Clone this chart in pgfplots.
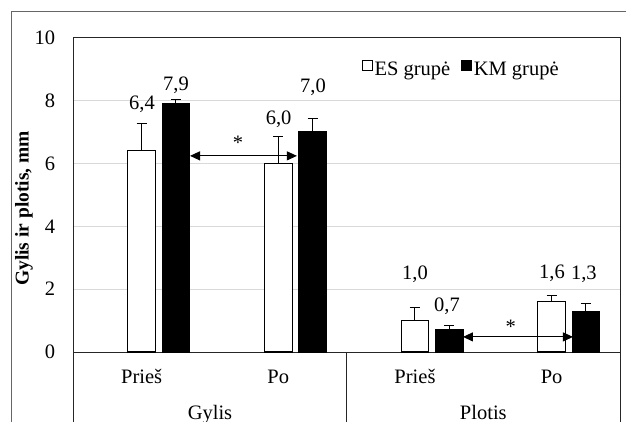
\documentclass[border=0pt]{standalone}
\usepackage{fontspec}
\setmainfont{Liberation Serif}
\usepackage{pgfplots}
\pgfplotsset{compat=1.18}
\usetikzlibrary{arrows.meta}
\tikzset{lbl/.style={anchor=base, yshift=-6.9bp}}

\begin{document}
\fontsize{20.5bp}{24bp}\selectfont
\begin{tikzpicture}
\useasboundingbox (-73.3bp,-70bp) rectangle (552.7bp,352bp);
\draw[black!60, line width=0.8bp] (-61.8bp,-90bp) -- (-61.8bp,341bp) -- (580bp,341bp);
\begin{axis}[
  scale only axis, width=546.7bp, height=314.3bp,
  at={(0,0)}, anchor=south west,
  xmin=-0.5, xmax=3.5, ymin=0, ymax=10,
  ytick={0,2,...,10},
  xtick={0,1,2,3}, xticklabels={Prieš,Po,Prieš,Po},
  major tick length=0pt,
  /pgf/number format/assume math mode=true,
  yticklabel style={anchor=east, inner sep=0pt, xshift=-18bp},
  xticklabel style={anchor=base, inner sep=0pt, yshift=-31.3bp},
  axis line style={black!85, line width=0.8bp},
  ymajorgrids, grid style={gray!30, line width=0.8bp},
  clip=false,
  legend style={at={(rel axis cs:0.527,0.897)}, anchor=west, draw=none, fill=none,
    legend columns=2, inner sep=0pt,
    /tikz/every even column/.append style={column sep=9bp},
    nodes={inner sep=1.5bp}},
  legend cell align=left,
  ylabel={\textbf{Gylis ir plotis, mm}},
  ylabel style={at={(axis description cs:-0.0902,0.457)}, anchor=center,
    font=\fontsize{19.5bp}{23bp}\selectfont},
]
\addplot[ybar, bar width=27.6bp, bar shift=0bp, fill=white, draw=black, line width=1.2bp,
  legend image code/.code={\draw[fill=white, draw=black, line width=1bp] (0bp,0bp) rectangle (10.5bp,10.5bp);},
  error bars/.cd, y dir=plus, y explicit,
  error bar style={black, line width=1bp},
  error mark options={rotate=90, mark size=5bp, line width=1bp, black}]
  coordinates {(0,6.4) +- (0,0.87) (1,6.0) +- (0,0.87) (2,1.0) +- (0,0.40) (3,1.6) +- (0,0.21)};
\addlegendentry{ES grupė}
\addplot[ybar, bar width=27.6bp, bar shift=0bp, fill=black, draw=black, line width=1bp,
  legend image code/.code={\draw[fill=black, draw=black, line width=1bp] (0bp,0bp) rectangle (10.5bp,10.5bp);},
  error bars/.cd, y dir=plus, y explicit,
  error bar style={black, line width=1bp},
  error mark options={rotate=90, mark size=5bp, line width=1bp, black}]
  coordinates {(0.251,7.9) +- (0,0.13) (1.251,7.0) +- (0,0.43) (2.251,0.7) +- (0,0.13) (3.251,1.3) +- (0,0.23)};
\addlegendentry{KM grupė}

% data labels
\node[lbl] at (axis cs:0.003,7.92) {6,4};
\node[lbl] at (axis cs:0.251,8.53) {7,9};
\node[lbl] at (axis cs:1.002,7.47) {6,0};
\node[lbl] at (axis cs:1.254,8.49) {7,0};
\node[lbl] at (axis cs:2.0,2.54) {1,0};
\node[lbl] at (axis cs:2.234,1.52) {0,7};
\node[lbl] at (axis cs:3.002,2.57) {1,6};
\node[lbl] at (axis cs:3.236,2.54) {1,3};

% significance arrows
\draw[{Triangle[length=10bp,width=9bp]}-{Triangle[length=10bp,width=9bp]}, line width=1bp]
  (axis cs:0.354,6.24) -- (axis cs:1.136,6.24);
\draw[{Triangle[length=10bp,width=9bp]}-{Triangle[length=10bp,width=9bp]}, line width=1bp]
  (axis cs:2.351,0.48) -- (axis cs:3.156,0.48);
\node[yshift=-3bp] at (axis cs:0.705,6.74) {*};
\node[yshift=-3bp] at (axis cs:2.70,0.91) {*};

% category separators
\draw[black!85, line width=0.8bp] (rel axis cs:0,0) -- ++(0bp,-90bp);
\draw[black!85, line width=0.8bp] (axis cs:1.5,0) -- ++(0bp,-90bp);
\draw[black!85, line width=0.8bp] (rel axis cs:1,0) -- ++(0bp,-90bp);

% group labels
\node[anchor=base, yshift=-67.5bp] at (axis cs:0.5,0) {Gylis};
\node[anchor=base, yshift=-67.5bp] at (axis cs:2.5,0) {Plotis};
\end{axis}
\end{tikzpicture}
\end{document}
